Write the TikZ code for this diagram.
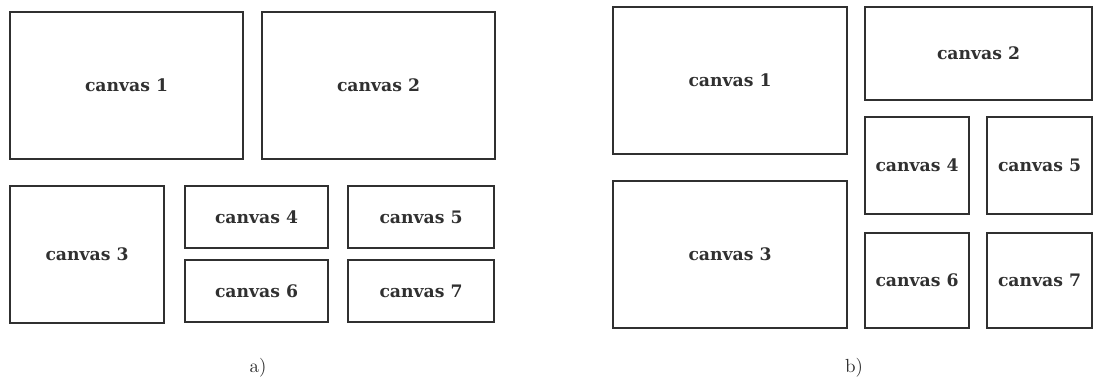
\documentclass[tikz,border=0pt]{standalone}
\usepackage{fontspec}
\usepackage{tikz}
\usetikzlibrary{fit}
\newfontfamily\cvfont{DejaVu Serif}
\definecolor{cInk}{HTML}{303030}
\tikzset{
  cv/.style    ={draw=cInk,line width=0.75pt,inner sep=0pt},
  cvtxt/.style ={font=\cvfont\bfseries\fontsize{9.8}{11}\selectfont,text=cInk},
  sublbl/.style={font=\fontsize{10.8}{12}\selectfont,text=cInk},
}
\begin{document}
\begin{tikzpicture}[x=0.02cm,y=-0.02cm]
\useasboundingbox (0,0) rectangle (1093,381);
% a)
\node[cv,fit={(10,12) (243,159)}]   (a1) {};
\node[cv,fit={(262,12) (495,159)}]  (a2) {};
\node[cv,fit={(10,186) (164,323)}]  (a3) {};
\node[cv,fit={(185,186) (328,248)}] (a4) {};
\node[cv,fit={(348,186) (494,248)}] (a5) {};
\node[cv,fit={(185,260) (328,322)}] (a6) {};
\node[cv,fit={(348,260) (494,322)}] (a7) {};
\foreach \i in {1,...,7}
  \node[cvtxt] (ta\i) at (a\i.center) {canvas \i};
\node[sublbl] (la) at (258,368) {a)};
% b)
\node[cv,fit={(613,7) (847,154)}]    (b1) {};
\node[cv,fit={(865,7) (1092,100)}]   (b2) {};
\node[cv,fit={(613,181) (847,328)}]  (b3) {};
\node[cv,fit={(865,117) (969,214)}]  (b4) {};
\node[cv,fit={(987,117) (1092,214)}] (b5) {};
\node[cv,fit={(865,233) (969,328)}]  (b6) {};
\node[cv,fit={(987,233) (1092,328)}] (b7) {};
\foreach \i in {1,...,7}
  \node[cvtxt] (tb\i) at (b\i.center) {canvas \i};
\node[sublbl] (lb) at (854,368) {b)};
\end{tikzpicture}
\end{document}
